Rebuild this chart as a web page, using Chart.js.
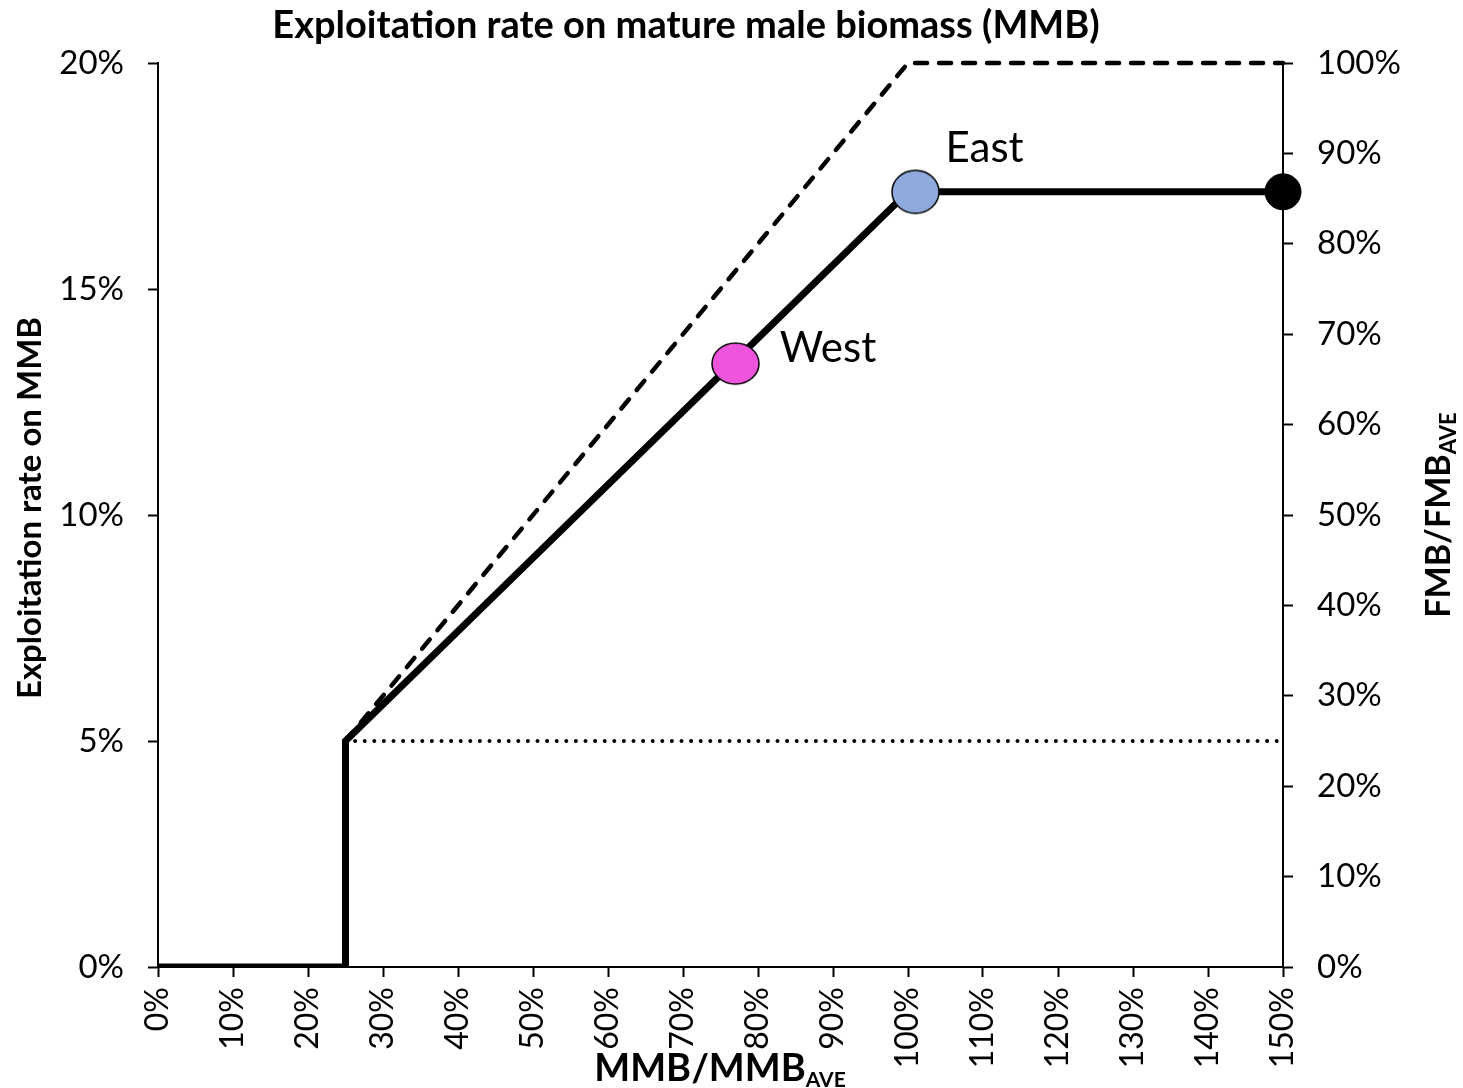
<!DOCTYPE html>
<html>
<head>
<meta charset="utf-8">
<script src="https://cdn.jsdelivr.net/npm/chart.js@4.4.1/dist/chart.umd.min.js"></script>
<style>
  html, body { margin: 0; padding: 0; background: #fff; }
  #wrap { width: 1463px; height: 1088px; }
</style>
</head>
<body>
<div id="wrap"><canvas id="myChart" width="1463" height="1088"></canvas></div>
<script>
// MMB/MMB_AVE (%) vs exploitation rate on MMB (%)
var ruleX = [0, 25, 25, 100, 150];
var ruleY = [0, 0, 5, 17.15, 17.15];
var capX = [25, 100, 150];
var capY = [5, 20, 20];
var floorX = [25, 150];
var floorY = [5, 5];
var eastX = [101], eastY = [17.15];
var westX = [77], westY = [13.35];
var endX = [150], endY = [17.15];
var xTicks = [0, 10, 20, 30, 40, 50, 60, 70, 80, 90, 100, 110, 120, 130, 140, 150];
var leftTicks = [0, 5, 10, 15, 20];
var rightTicks = [0, 10, 20, 30, 40, 50, 60, 70, 80, 90, 100];

var FONT = "Lato";

function pts(xs, ys) {
  var out = [];
  for (var i = 0; i < xs.length; i++) out.push({x: xs[i], y: ys[i]});
  return out;
}

function ellipse(w, h, fill) {
  var c = document.createElement("canvas");
  c.width = w + 4; c.height = h + 4;
  var g = c.getContext("2d");
  g.beginPath();
  g.ellipse(c.width / 2, c.height / 2, w / 2, h / 2, 0, 0, Math.PI * 2);
  g.fillStyle = fill;
  g.fill();
  g.lineWidth = 1.5;
  g.strokeStyle = "#000";
  g.stroke();
  return c;
}

var textPlugin = {
  id: "texts",
  afterDraw: function(chart) {
    var ctx = chart.ctx;
    ctx.save();
    ctx.fillStyle = "#000";
    // title
    ctx.font = "bold 38px " + FONT;
    ctx.textAlign = "center";
    ctx.textBaseline = "alphabetic";
    ctx.fillText("Exploitation rate on mature male biomass (MMB)", 686, 38);

    // point labels
    var xs = chart.scales.x, ys = chart.scales.y;
    ctx.font = "42px " + FONT;
    ctx.textAlign = "left";
    ctx.fillText("East", xs.getPixelForValue(105), ys.getPixelForValue(17.81));
    ctx.fillText("West", xs.getPixelForValue(82.9), ys.getPixelForValue(13.38));

    // left axis title
    ctx.save();
    ctx.translate(41, 508);
    ctx.rotate(-Math.PI / 2);
    ctx.font = "bold 33px " + FONT;
    ctx.textAlign = "center";
    ctx.fillText("Exploitation rate on MMB", 0, 0);
    ctx.restore();

    // bottom axis title with subscript
    ctx.font = "bold 38px " + FONT;
    var main = "MMB/MMB";
    var mw = ctx.measureText(main).width;
    ctx.font = "bold 21px " + FONT;
    var sw = ctx.measureText("AVE").width;
    var x0 = 720 - (mw + sw) / 2;
    ctx.font = "bold 38px " + FONT;
    ctx.textAlign = "left";
    ctx.fillText(main, x0, 1081);
    ctx.font = "bold 21px " + FONT;
    ctx.fillText("AVE", x0 + mw, 1087);

    // right axis title with subscript
    ctx.save();
    ctx.translate(1450, 515);
    ctx.rotate(-Math.PI / 2);
    ctx.font = "bold 34px " + FONT;
    var rm = "FMB/FMB";
    var rmw = ctx.measureText(rm).width;
    ctx.font = "bold 22px " + FONT;
    var rsw = ctx.measureText("AVE").width;
    var r0 = -(rmw + rsw) / 2;
    ctx.font = "bold 34px " + FONT;
    ctx.textAlign = "left";
    ctx.fillText(rm, r0, 0);
    ctx.font = "bold 22px " + FONT;
    ctx.fillText("AVE", r0 + rmw, 6);
    ctx.restore();

    ctx.restore();
  }
};

new Chart("myChart", {
  type: "scatter",
  data: {
    datasets: [
      {
        data: pts(floorX, floorY),
        showLine: true,
        borderColor: "#000",
        borderWidth: 4,
        borderDash: [0, 9.6],
        borderCapStyle: "round",
        pointRadius: 0,
        order: 5
      },
      {
        data: pts(capX, capY),
        showLine: true,
        borderColor: "#000",
        borderWidth: 4.5,
        borderDash: [12, 12],
        borderCapStyle: "round",
        borderJoinStyle: "round",
        pointRadius: 0,
        clip: false,
        order: 4
      },
      {
        data: pts(ruleX, ruleY),
        showLine: true,
        borderColor: "#000",
        borderWidth: 7,
        borderJoinStyle: "miter",
        pointRadius: 0,
        order: 3
      },
      {
        data: pts(endX, endY),
        pointStyle: "circle",
        pointRadius: 18,
        backgroundColor: "#000",
        borderColor: "#000",
        clip: false,
        order: 2
      },
      {
        data: pts(eastX, eastY),
        pointStyle: ellipse(47, 43, "#8EA9DB"),
        order: 1
      },
      {
        data: pts(westX, westY),
        pointStyle: ellipse(47, 41, "#EE55DC"),
        order: 1
      }
    ]
  },
  options: {
    responsive: false,
    animation: false,
    events: [],
    layout: { padding: { top: 63, left: 0, right: 0, bottom: 0 } },
    plugins: {
      legend: { display: false },
      tooltip: { enabled: false }
    },
    scales: {
      x: {
        type: "linear",
        min: 0, max: 150,
        afterFit: function(s) { s.height = 121; },
        afterBuildTicks: function(s) { s.ticks = xTicks.map(function(v) { return {value: v}; }); },
        ticks: {
          minRotation: 90, maxRotation: 90,
          padding: 10,
          color: "#000",
          font: { family: FONT, size: 32 },
          callback: function(v) { return v + "%"; }
        },
        grid: { drawOnChartArea: false, tickLength: 10, tickColor: "#000", tickWidth: 2 },
        border: { color: "#000", width: 2 }
      },
      y: {
        position: "left",
        min: 0, max: 20,
        afterFit: function(s) { s.width = 158; },
        afterBuildTicks: function(s) { s.ticks = leftTicks.map(function(v) { return {value: v}; }); },
        ticks: {
          padding: 24,
          color: "#000",
          font: { family: FONT, size: 33 },
          callback: function(v) { return v + "%"; }
        },
        grid: { drawOnChartArea: false, tickLength: 10, tickColor: "#000", tickWidth: 2 },
        border: { color: "#000", width: 2 }
      },
      y2: {
        position: "right",
        min: 0, max: 100,
        afterFit: function(s) { s.width = 180; },
        afterBuildTicks: function(s) { s.ticks = rightTicks.map(function(v) { return {value: v}; }); },
        ticks: {
          padding: 24,
          color: "#000",
          font: { family: FONT, size: 33 },
          callback: function(v) { return v + "%"; }
        },
        grid: { drawOnChartArea: false, tickLength: 10, tickColor: "#000", tickWidth: 2 },
        border: { color: "#000", width: 2 }
      }
    }
  },
  plugins: [textPlugin]
});
</script>
</body>
</html>
